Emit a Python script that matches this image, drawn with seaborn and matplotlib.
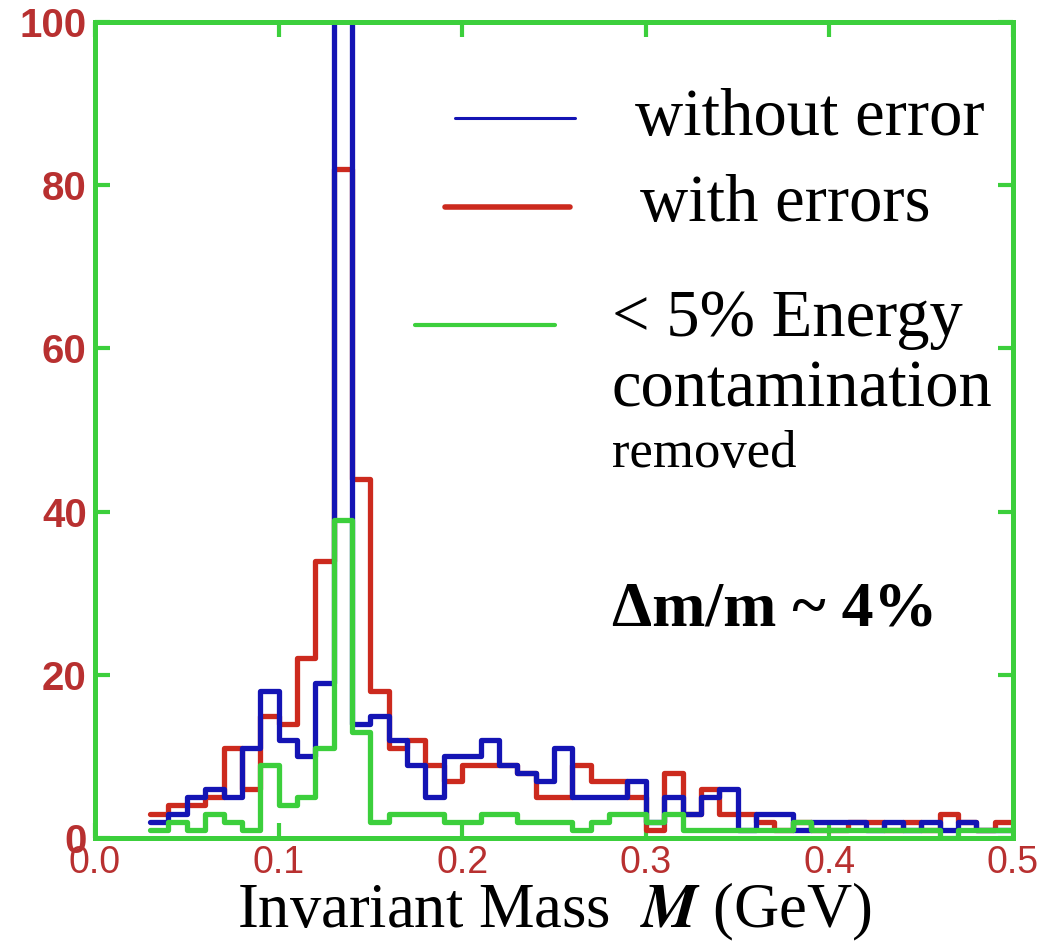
import matplotlib
matplotlib.use("Agg")
import matplotlib.pyplot as plt
import seaborn as sns
import numpy as np
import pandas as pd

# DATA (counts per 0.01 GeV bin, from 0.03 to 0.50 GeV)
bin_lo = 0.03
bin_hi = 0.50
bin_width = 0.01

without_error = [2, 3, 5, 6, 5, 11, 18, 12, 10, 19, 130, 14, 15, 12, 9, 5, 10, 10, 12, 9,
                 8, 7, 11, 5, 5, 5, 7, 2, 5, 3, 5, 6, 1, 3, 3, 1, 2, 2, 2, 1,
                 2, 1, 2, 1, 2, 1, 1]
with_errors = [3, 4, 4, 5, 11, 6, 15, 14, 22, 34, 82, 44, 18, 11, 12, 9, 7, 9, 9, 9,
               8, 5, 5, 9, 7, 7, 5, 1, 8, 3, 6, 3, 3, 2, 1, 2, 1, 1, 2, 2,
               1, 2, 1, 3, 2, 1, 2]
energy_cut = [1, 2, 1, 3, 2, 1, 9, 4, 5, 11, 39, 13, 2, 3, 3, 3, 2, 2, 3, 3,
              2, 2, 2, 1, 2, 3, 3, 2, 3, 1, 1, 1, 1, 1, 1, 2, 1, 1, 1, 1,
              1, 1, 1, 0, 1, 1, 1]

x_ticks = [0.0, 0.1, 0.2, 0.3, 0.4, 0.5]
y_ticks = [0, 20, 40, 60, 80, 100]

n_bins = len(without_error)
centers = bin_lo + bin_width * (np.arange(n_bins) + 0.5)
df = pd.DataFrame({"mass": centers, "without": without_error,
                   "with": with_errors, "cut": energy_cut})

# STYLE
sns.set_theme(style="white")
plt.rcParams["font.family"] = ["Liberation Serif", "DejaVu Serif"]
plt.rcParams["mathtext.fontset"] = "stix"
plt.rcParams["text.color"] = "black"

GREEN = "#3ccf3c"
BLUE = "#1414b4"
RED = "#cc2a1e"
TICKRED = "#b83030"

fig = plt.figure(figsize=(10.52, 9.51), dpi=100)
ax = fig.add_axes([95 / 1052, 1 - 838 / 951, 918 / 1052, 816 / 951])

# HISTOGRAMS
for col, colr in [("with", RED), ("without", BLUE), ("cut", GREEN)]:
    sns.histplot(data=df, x="mass", weights=col, binwidth=bin_width,
                 binrange=(bin_lo, bin_hi), element="step",
                 fill=False, color=colr, linewidth=3.8, ax=ax)

ax.set_xlim(0, 0.5)
ax.set_ylim(0, 100)
ax.set_xticks(x_ticks)
ax.set_yticks(y_ticks)
ax.set_xticklabels([f"{t:.1f}" for t in x_ticks],
                   family=["Liberation Sans"], fontsize=27)
ax.set_yticklabels([str(t) for t in y_ticks],
                   family=["Liberation Sans"], fontsize=29, fontweight="bold")
ax.tick_params(axis="both", direction="in", length=11, width=3, color=GREEN,
               labelcolor=TICKRED, top=True, right=True, bottom=True, left=True)
ax.tick_params(axis="x", pad=5)
ax.tick_params(axis="y", pad=6)
for sp in ax.spines.values():
    sp.set_color(GREEN)
    sp.set_linewidth(3.6)

ax.set_ylabel("")
ax.set_xlabel(r"Invariant Mass  $\mathbfit{M}$ (GeV)", fontsize=45, labelpad=0,
              color="black")

# LEGEND (drawn by hand to match the layout)
keys = [(0.392, 0.523, 0.882, BLUE, 2.2), (0.381, 0.517, 0.773, RED, 4.0),
        (0.349, 0.501, 0.629, GREEN, 3.0)]
for x0, x1, y, c, lw in keys:
    ax.plot([x0, x1], [y, y], transform=ax.transAxes, color=c, lw=lw)

ax.text(0.588, 0.882, "without error", transform=ax.transAxes, fontsize=48, va="center")
ax.text(0.594, 0.776, "with errors", transform=ax.transAxes, fontsize=48, va="center")
ax.text(0.563, 0.635, "< 5% Energy", transform=ax.transAxes, fontsize=48, va="center")
ax.text(0.563, 0.549, "contamination", transform=ax.transAxes, fontsize=48, va="center")
ax.text(0.563, 0.470, "removed", transform=ax.transAxes, fontsize=38, va="center")
ax.text(0.563, 0.279, "\u0394m/m ~ 4%", transform=ax.transAxes, fontsize=46,
        fontweight="bold", va="center")

fig.savefig("out.png", dpi=100)
